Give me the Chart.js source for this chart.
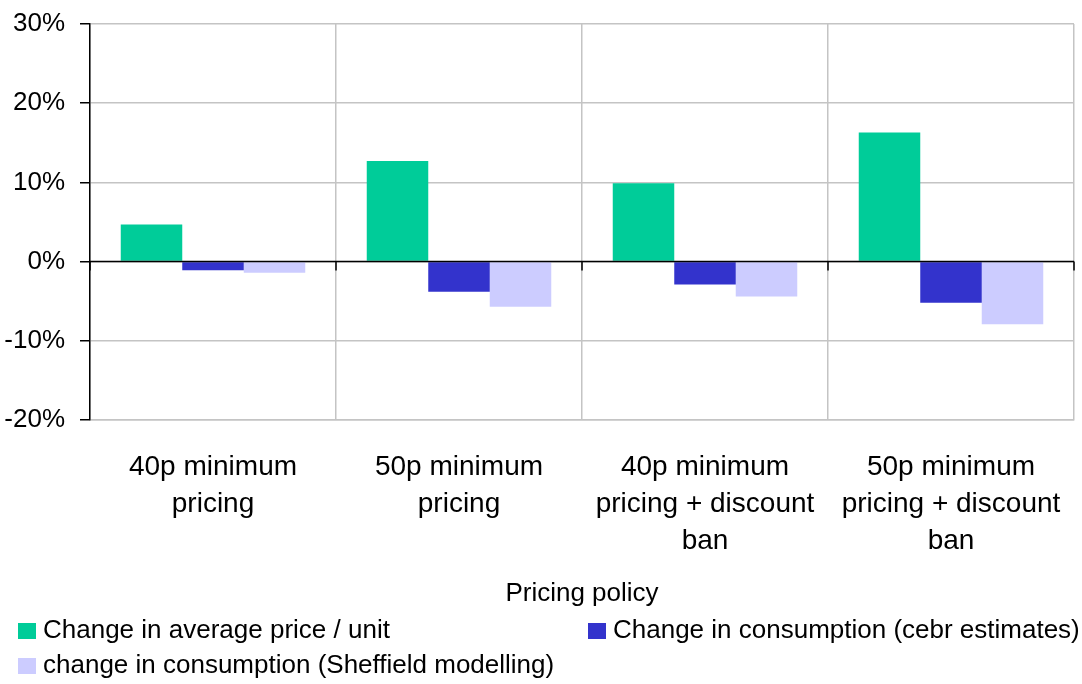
<!DOCTYPE html>
<html>
<head>
<meta charset="utf-8">
<script src="https://cdn.jsdelivr.net/npm/chart.js@4/dist/chart.umd.min.js"></script>
<style>
  html, body { margin: 0; padding: 0; background: #fff; }
  #wrap { position: relative; width: 1082px; height: 684px; }
</style>
</head>
<body>
<div id="wrap"><canvas id="chart" width="1082" height="684"></canvas></div>
<script>
// Pricing policy scenarios (x categories, multi-line labels)
const categories = [
  ["40p minimum", "pricing"],
  ["50p minimum", "pricing"],
  ["40p minimum", "pricing + discount", "ban"],
  ["50p minimum", "pricing + discount", "ban"]
];

// Percentage changes per scenario
const priceChange = [4.7, 12.7, 9.9, 16.3];
const cebrConsumption = [-1.1, -3.8, -2.9, -5.2];
const sheffieldConsumption = [-1.4, -5.7, -4.4, -7.9];

const seriesNames = [
  "Change in average price / unit",
  "Change in consumption (cebr estimates)",
  "change in consumption (Sheffield modelling)"
];
const seriesColors = ["#00CC99", "#3333CC", "#CCCCFF"];

// Value axis ticks
const yTicks = [-20, -10, 0, 10, 20, 30];

const axisTitle = "Pricing policy";

const FONT = "'Liberation Sans', Arial, sans-serif";

// Zero line plus small tick marks at each category boundary, drawn over the bars
const zeroLinePlugin = {
  id: 'zeroLine',
  afterDatasetsDraw(chart) {
    const { ctx, scales: { x, y } } = chart;
    const y0 = y.getPixelForValue(0);
    ctx.save();
    ctx.strokeStyle = '#000';
    ctx.lineWidth = 1.5;
    ctx.beginPath();
    ctx.moveTo(x.left, y0);
    ctx.lineTo(x.right, y0);
    const n = chart.data.labels.length;
    for (let i = 0; i <= n; i++) {
      const bx = x.left + (x.right - x.left) * i / n;
      ctx.moveTo(bx, y0);
      ctx.lineTo(bx, y0 + 9);
    }
    ctx.stroke();
    ctx.restore();
  }
};

// Axis title and a two-row legend below the category labels
const legendPlugin = {
  id: 'customLegend',
  afterDraw(chart) {
    const { ctx, chartArea } = chart;
    ctx.save();
    ctx.font = "26px " + FONT;
    ctx.fillStyle = '#000';
    ctx.textBaseline = 'middle';
    ctx.textAlign = 'center';
    ctx.fillText(axisTitle, (chartArea.left + chartArea.right) / 2, 594);

    const slots = [
      { x: 18, y: 630 },
      { x: 588, y: 630 },
      { x: 18, y: 665 }
    ];
    ctx.textAlign = 'left';
    chart.data.datasets.forEach((ds, i) => {
      const s = slots[i];
      ctx.fillStyle = ds.backgroundColor;
      ctx.fillRect(s.x, s.y - 7, 18, 16);
      ctx.fillStyle = '#000';
      ctx.fillText(ds.label, s.x + 25, s.y + 1);
    });
    ctx.restore();
  }
};

new Chart(document.getElementById('chart'), {
  type: 'bar',
  data: {
    labels: categories,
    datasets: [
      { label: seriesNames[0], data: priceChange, backgroundColor: seriesColors[0] },
      { label: seriesNames[1], data: cebrConsumption, backgroundColor: seriesColors[1] },
      { label: seriesNames[2], data: sheffieldConsumption, backgroundColor: seriesColors[2] }
    ]
  },
  options: {
    responsive: false,
    animation: false,
    devicePixelRatio: 1,
    layout: { padding: { left: 0, right: 8, top: 24, bottom: 0 } },
    datasets: { bar: { categoryPercentage: 0.75, barPercentage: 1.0, borderWidth: 0 } },
    plugins: {
      legend: { display: false },
      tooltip: { enabled: false }
    },
    scales: {
      x: {
        afterFit(scale) {
          scale.height = 264;
          scale.paddingLeft = 0;
          scale.paddingRight = 0;
        },
        grid: { color: '#c4c4c4', lineWidth: 1.5, drawTicks: false, offset: true },
        border: { color: '#c4c4c4', width: 1.5 },
        ticks: {
          color: '#000',
          font: { family: FONT, size: 28, lineHeight: 1.32 },
          padding: 29,
          maxRotation: 0,
          autoSkip: false
        }
      },
      y: {
        min: -20,
        max: 30,
        afterBuildTicks(scale) {
          scale.ticks = yTicks.map(v => ({ value: v }));
        },
        afterFit(scale) {
          scale.width = 90;
          scale.paddingTop = 0;
          scale.paddingBottom = 0;
        },
        grid: {
          color: '#c4c4c4',
          lineWidth: 1.5,
          tickColor: '#000',
          tickLength: 10
        },
        border: { color: '#000', width: 1.5 },
        ticks: {
          color: '#000',
          padding: 15,
          font: { family: FONT, size: 26 },
          callback: v => v + '%'
        }
      }
    }
  },
  plugins: [zeroLinePlugin, legendPlugin]
});
</script>
</body>
</html>
